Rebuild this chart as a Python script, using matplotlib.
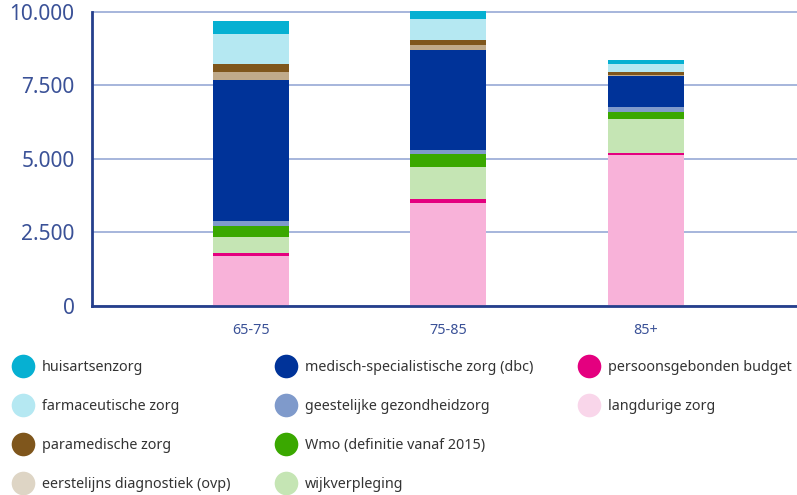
import matplotlib
matplotlib.use("Agg")
import matplotlib.pyplot as plt
from matplotlib.lines import Line2D
import numpy as np

categories = ["65-75", "75-85", "85+"]

# stacked from bottom to top
series_names = [
    "langdurige zorg",
    "persoonsgebonden budget",
    "wijkverpleging",
    "Wmo (definitie vanaf 2015)",
    "geestelijke gezondheidzorg",
    "medisch-specialistische zorg (dbc)",
    "eerstelijns diagnostiek (ovp)",
    "paramedische zorg",
    "farmaceutische zorg",
    "huisartsenzorg",
]
langdurig = [1682, 3489, 5125]
pgb = [102, 136, 68]
wijk = [546, 1091, 1159]
wmo = [375, 443, 239]
ggz = [170, 136, 170]
medisch = [4807, 3409, 1057]
eerstelijns = [273, 170, 34]
paramedisch = [273, 170, 103]
farmaceutisch = [1023, 716, 272]
huisarts = [443, 273, 137]
values = [langdurig, pgb, wijk, wmo, ggz, medisch, eerstelijns, paramedisch, farmaceutisch, huisarts]

bar_colors = {
    "langdurige zorg": "#f8b2d9",
    "persoonsgebonden budget": "#e4007f",
    "wijkverpleging": "#c5e5b4",
    "Wmo (definitie vanaf 2015)": "#3aa800",
    "geestelijke gezondheidzorg": "#7f9acb",
    "medisch-specialistische zorg (dbc)": "#003399",
    "eerstelijns diagnostiek (ovp)": "#c0aa8a",
    "paramedische zorg": "#7f561c",
    "farmaceutische zorg": "#b5e8f2",
    "huisartsenzorg": "#06b0d2",
}
legend_colors = dict(bar_colors)
legend_colors["eerstelijns diagnostiek (ovp)"] = "#ded5c5"
legend_colors["langdurige zorg"] = "#f9d6ea"

legend_order = [
    "huisartsenzorg", "farmaceutische zorg", "paramedische zorg", "eerstelijns diagnostiek (ovp)",
    "medisch-specialistische zorg (dbc)", "geestelijke gezondheidzorg", "Wmo (definitie vanaf 2015)", "wijkverpleging",
    "persoonsgebonden budget", "langdurige zorg", None, None,
]

yticks = [0, 2500, 5000, 7500, 10000]
ytick_labels = ["0", "2.500", "5.000", "7.500", "10.000"]

plt.rcParams["font.family"] = ["Noto Sans", "DejaVu Sans"]

W, H = 797, 495
fig = plt.figure(figsize=(W / 100, H / 100), dpi=100)
y0_px, y10k_px = 305.5, 12.0
ytop = 10060
px_per_unit = (y0_px - y10k_px) / 10000
top_px = y0_px - ytop * px_per_unit
ax = fig.add_axes([92 / W, (H - y0_px) / H, (797 - 92) / W, (y0_px - top_px) / H])

x = np.arange(len(categories))
bottom = np.zeros(len(categories))
for name, vals in zip(series_names, values):
    ax.bar(x, vals, bottom=bottom, width=0.385, color=bar_colors[name], linewidth=0, zorder=3)
    bottom += np.array(vals)

ax.set_xlim(-0.805, 2.765)
ax.set_ylim(0, ytop)
ax.set_yticks(yticks)
ax.set_yticklabels(ytick_labels)
ax.set_xticks(x)
ax.set_xticklabels(categories)

label_color = "#3a5197"
ax.tick_params(axis="y", length=0, pad=12.5, labelsize=15, labelcolor=label_color)
ax.tick_params(axis="x", length=0, pad=12.5, labelsize=10.3, labelcolor=label_color)
ax.yaxis.grid(True, color="#a6b6dc", linewidth=1.4, zorder=1)
ax.set_axisbelow(True)
for s in ["top", "right"]:
    ax.spines[s].set_visible(False)
for s in ["left", "bottom"]:
    ax.spines[s].set_color("#253f8c")
    ax.spines[s].set_linewidth(2.0)
    ax.spines[s].set_zorder(4)
ax.spines["left"].set_bounds(0, 10000)

handles, labels = [], []
for name in legend_order:
    if name is None:
        handles.append(Line2D([], [], linestyle="none", marker="o", markersize=17, color="none"))
        labels.append("")
    else:
        handles.append(Line2D([], [], linestyle="none", marker="o", markersize=17,
                              markerfacecolor=legend_colors[name], markeredgewidth=0))
        labels.append(name)

fs = 10.3
fig.legend(handles, labels, ncol=3, loc="upper left",
           bbox_to_anchor=(14 / W, 1 - 360 / H), frameon=False,
           fontsize=fs, labelcolor="#333333", handlelength=1.2, handletextpad=0.73,
           columnspacing=3.3, labelspacing=1.68, borderaxespad=0, borderpad=0)

fig.savefig("out.png", dpi=100)
